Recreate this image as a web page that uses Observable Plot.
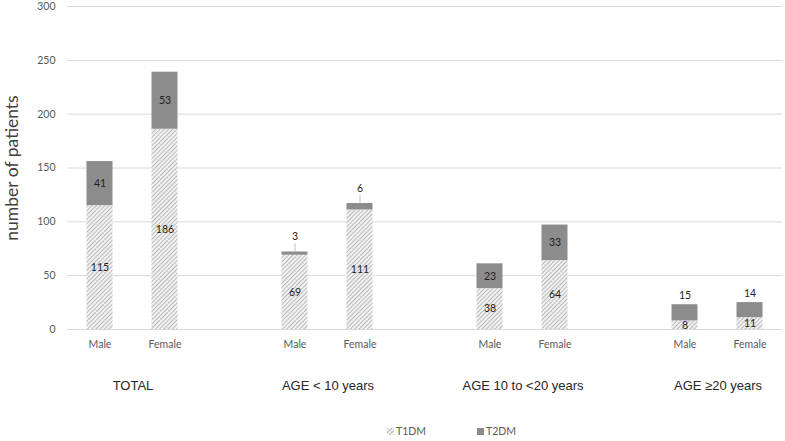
<!DOCTYPE html>
<html>
<head>
<meta charset="utf-8">
<script src="https://cdn.jsdelivr.net/npm/d3@7"></script>
<script src="https://cdn.jsdelivr.net/npm/@observablehq/plot@0.6"></script>
<style>
  body { margin: 0; background: #fff; }
  #legend { position: relative; height: 20px; font: 10.5px Lato, sans-serif; color: #595959; }
  .item { position: absolute; top: 4px; display: flex; align-items: center; gap: 2px; line-height: 13px; }
  .sw { width: 7px; height: 7px; display: inline-block; }
</style>
</head>
<body>
<div id="chart"></div>
<div id="legend">
  <div class="item" style="left:387px"><svg class="sw" width="7" height="7"><rect width="7" height="7" fill="url(#hatchL)"/></svg><span>T1DM</span></div>
  <div class="item" style="left:477px"><span class="sw" style="background:#8c8c8c"></span><span>T2DM</span></div>
</div>
<script>
const groups = ["TOTAL", "AGE < 10 years", "AGE 10 to <20 years", "AGE ≥20 years"];
const sexes = ["Male", "Female"];
const series = ["T1DM", "T2DM"];
const t1dm = [115, 186, 69, 111, 38, 64, 8, 11];
const t2dm = [41, 53, 3, 6, 23, 33, 15, 14];
const yTicks = [0, 50, 100, 150, 200, 250, 300];
const yLabel = "number of patients";

// band domain: Male, Female, then an empty slot between groups
const domain = [];
groups.forEach((g, gi) => {
  sexes.forEach(s => domain.push(g + "|" + s));
  if (gi < groups.length - 1) domain.push(g + "|");
});

const rows = [];
const tops = [];
t1dm.forEach((v, i) => {
  const g = groups[Math.floor(i / 2)], s = sexes[i % 2], key = g + "|" + s;
  rows.push({key, group: g, sex: s, type: "T1DM", value: v});
  rows.push({key, group: g, sex: s, type: "T2DM", value: t2dm[i]});
  tops.push({key, value: t2dm[i], total: v + t2dm[i]});
});

const inside = d => d.type === "T1DM" || d.value >= 20;
const above = tops.filter(d => d.value < 20 && d.value >= 10);
const leader = tops.filter(d => d.value < 10);
const numStyle = {fontSize: 10.5, fill: "#1f1f1f"};

const chart = Plot.plot({
  width: 785,
  height: 421,
  marginLeft: 67,
  marginRight: 3,
  marginTop: 6,
  marginBottom: 92,
  style: {fontFamily: "Lato, sans-serif", background: "#fff", overflow: "visible"},
  x: {domain, paddingInner: 0.6, paddingOuter: 0.3, round: false},
  y: {domain: [0, 300]},
  color: {domain: series, range: ["url(#hatch)", "#8c8c8c"]},
  marks: [
    Plot.gridY(yTicks, {stroke: "#d9d9d9", strokeOpacity: 1}),
    Plot.axisY(yTicks, {tickSize: 0, tickPadding: 12, fontSize: 10.5, fill: "#595959", label: null}),
    Plot.axisX(domain.filter(k => !k.endsWith("|")), {tickSize: 0, tickPadding: 11, fontSize: 10.5, fill: "#595959", tickFormat: k => k.split("|")[1], label: null}),
    Plot.barY(rows, {x: "key", y: "value", fill: "type"}),
    Plot.text(rows, Plot.stackY({x: "key", y: "value", text: "value", filter: inside, ...numStyle})),
    Plot.text(above, {x: "key", y: "total", text: "value", dy: -9, ...numStyle}),
    Plot.ruleX(leader, {x: "key", y1: "total", y2: "total", insetBottom: 8, stroke: "#bfbfbf"}),
    Plot.text(leader, {x: "key", y: "total", text: "value", dy: -15, ...numStyle}),
    Plot.text(groups.map(g => ({key: g + "|Male", g})), {x: "key", y: () => 0, text: "g", dx: 33, dy: 56, fontFamily: "Liberation Sans, Arial, sans-serif", fontSize: 13, fill: "#262626"}),
    Plot.text([yLabel], {frameAnchor: "left", textAnchor: "middle", text: d => d, rotate: -90, dx: -55, fontSize: 17.5, fill: "#404040"})
  ]
});

d3.select(chart).insert("defs", ":first-child").html(`
  <pattern id="hatch" patternUnits="userSpaceOnUse" width="3" height="3" patternTransform="rotate(45)">
    <rect width="3" height="3" fill="#f2f2f2"/>
    <line x1="0" y1="0" x2="0" y2="3" stroke="#8a8a8a" stroke-width="1.1"/>
  </pattern>`);
document.getElementById("chart").appendChild(chart);

// hatch for the legend swatch
d3.select("#legend svg").insert("defs", ":first-child").html(`
  <pattern id="hatchL" patternUnits="userSpaceOnUse" width="3" height="3" patternTransform="rotate(45)">
    <rect width="3" height="3" fill="#f2f2f2"/>
    <line x1="0" y1="0" x2="0" y2="3" stroke="#8a8a8a" stroke-width="1.1"/>
  </pattern>`);
</script>
</body>
</html>
